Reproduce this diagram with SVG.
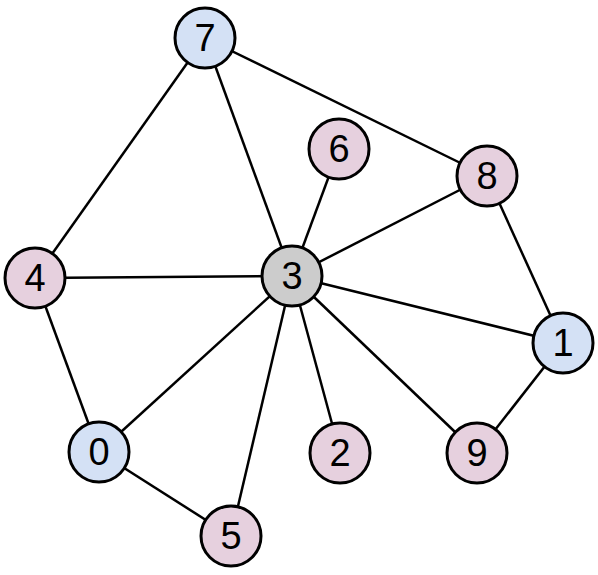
<svg xmlns="http://www.w3.org/2000/svg" width="598" height="575" viewBox="0 0 598 575">
<style>
.n circle{stroke:#000;stroke-width:3}
.b{fill:#d4e1f5}.p{fill:#e6d0de}.g{fill:#cccccc}
.n text{font-family:"Liberation Sans",Arial,sans-serif;font-size:38px;text-anchor:middle;dominant-baseline:central;fill:#000}
#edges line{stroke:#000;stroke-width:2.5}
</style>
<rect width="598" height="575" fill="#fff"/>
<g id="edges">
<line x1="205" y1="38" x2="487" y2="176"/>
<line x1="205" y1="38" x2="35" y2="278"/>
<line x1="205" y1="38" x2="292" y2="276"/>
<line x1="339" y1="149" x2="292" y2="276"/>
<line x1="487" y1="176" x2="292" y2="276"/>
<line x1="487" y1="176" x2="563" y2="343"/>
<line x1="35" y1="278" x2="292" y2="276"/>
<line x1="35" y1="278" x2="99" y2="452"/>
<line x1="292" y1="276" x2="563" y2="343"/>
<line x1="292" y1="276" x2="99" y2="452"/>
<line x1="292" y1="276" x2="340" y2="453"/>
<line x1="292" y1="276" x2="477" y2="453"/>
<line x1="292" y1="276" x2="231" y2="536"/>
<line x1="563" y1="343" x2="477" y2="453"/>
<line x1="99" y1="452" x2="231" y2="536"/>
</g>
<g id="n7" class="n"><circle class="b" cx="205" cy="38" r="30"/><text x="205" y="38">7</text></g>
<g id="n6" class="n"><circle class="p" cx="339" cy="149" r="30"/><text x="339" y="149">6</text></g>
<g id="n8" class="n"><circle class="p" cx="487" cy="176" r="30"/><text x="487" y="176">8</text></g>
<g id="n4" class="n"><circle class="p" cx="35" cy="278" r="30"/><text x="35" y="278">4</text></g>
<g id="n3" class="n"><circle class="g" cx="292" cy="276" r="30"/><text x="292" y="276">3</text></g>
<g id="n1" class="n"><circle class="b" cx="563" cy="343" r="30"/><text x="563" y="343">1</text></g>
<g id="n0" class="n"><circle class="b" cx="99" cy="452" r="30"/><text x="99" y="452">0</text></g>
<g id="n2" class="n"><circle class="p" cx="340" cy="453" r="30"/><text x="340" y="453">2</text></g>
<g id="n9" class="n"><circle class="p" cx="477" cy="453" r="30"/><text x="477" y="453">9</text></g>
<g id="n5" class="n"><circle class="p" cx="231" cy="536" r="30"/><text x="231" y="536">5</text></g>
</svg>
